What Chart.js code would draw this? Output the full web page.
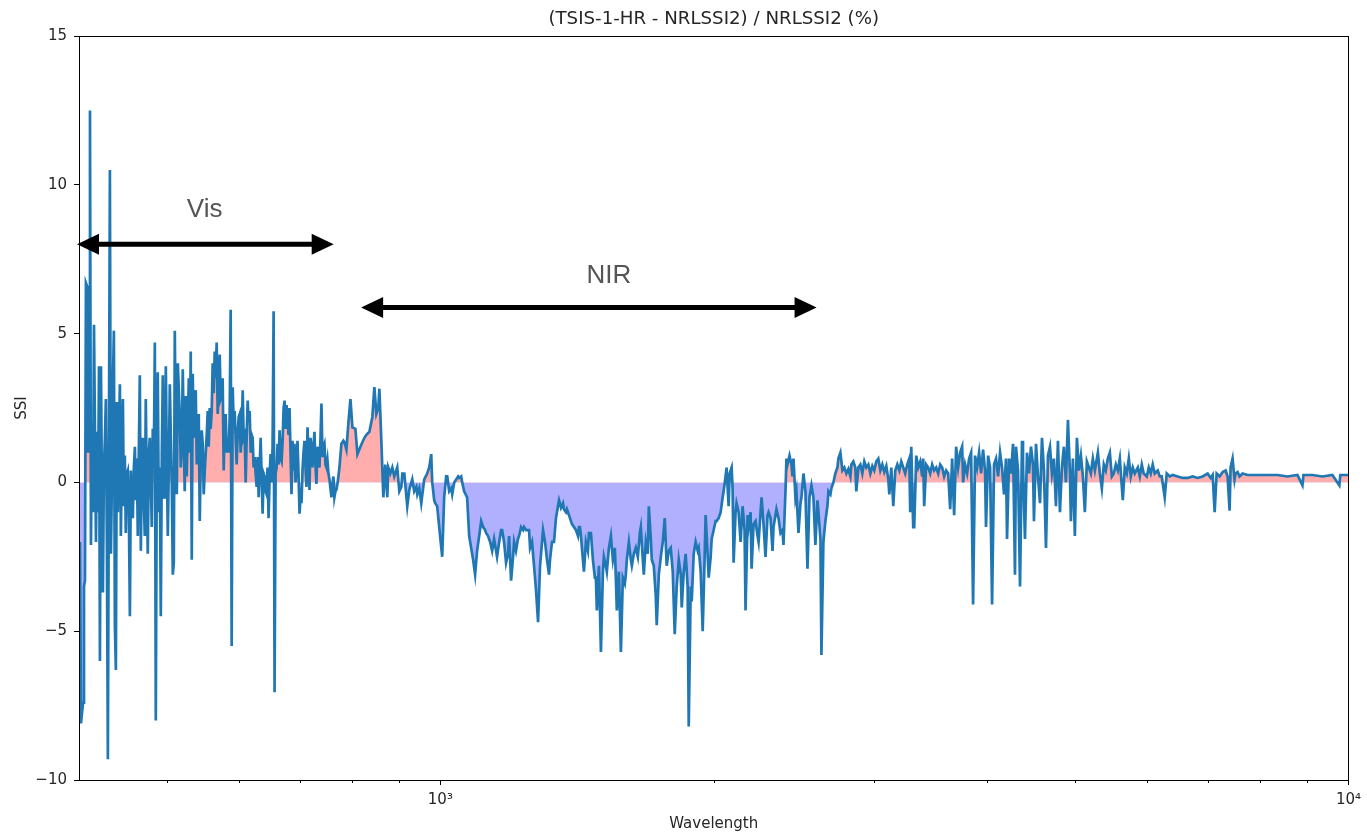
<!DOCTYPE html>
<html>
<head>
<meta charset="utf-8">
<title>(TSIS-1-HR - NRLSSI2) / NRLSSI2 (%)</title>
<script src="https://cdn.jsdelivr.net/npm/chart.js@4.4.1/dist/chart.umd.min.js"></script>
<style>
  html, body { margin: 0; padding: 0; background: #fff; }
  #wrap { width: 1367px; height: 835px; }
</style>
</head>
<body>
<div id="wrap"><canvas id="ssi-chart" width="1367" height="835"></canvas></div>
<script>
// Wavelength of each sample (nm)
const wavelength = [
    401.0, 402.0, 404.1, 405.1, 406.1, 407.1, 408.2, 409.2, 410.3, 411.3,
    412.3, 413.4, 414.4, 415.5, 416.5, 417.6, 418.6, 419.7, 420.8, 421.8,
    422.9, 424.0, 425.0, 426.1, 427.2, 428.2, 429.3, 430.4, 431.5, 432.6,
    433.7, 434.8, 435.9, 437.0, 438.1, 439.2, 440.3, 441.4, 442.6, 443.7,
    444.8, 446.0, 447.1, 448.2, 449.3, 450.4, 451.6, 452.7, 453.9, 455.1,
    456.2, 457.4, 458.5, 459.7, 460.9, 462.0, 463.2, 464.3, 465.5, 466.7,
    467.9, 469.1, 470.2, 471.4, 472.6, 473.8, 475.0, 476.2, 477.5, 478.7,
    479.9, 481.1, 482.3, 483.5, 484.8, 486.0, 487.2, 488.4, 489.7, 491.0,
    492.2, 493.5, 494.7, 496.0, 497.2, 498.5, 499.7, 501.0, 502.3, 503.6,
    504.9, 506.1, 507.4, 508.7, 510.0, 511.3, 512.6, 513.9, 516.5, 517.8,
    519.1, 520.4, 521.7, 523.0, 524.3, 525.7, 527.0, 528.4, 529.7, 531.0,
    532.4, 533.7, 535.1, 536.4, 537.8, 539.2, 540.5, 541.9, 543.3, 544.7,
    546.0, 547.4, 548.8, 550.2, 551.6, 553.0, 554.4, 555.8, 557.2, 558.6,
    560.0, 561.4, 562.9, 564.3, 565.7, 567.1, 568.6, 570.0, 571.5, 572.9,
    574.4, 575.8, 577.3, 578.7, 580.2, 581.7, 583.1, 584.6, 586.1, 587.6,
    589.1, 590.6, 592.1, 593.6, 595.1, 596.6, 598.1, 599.7, 601.2, 602.7,
    604.2, 605.8, 607.3, 608.8, 610.4, 611.9, 613.5, 615.0, 616.6, 618.2,
    619.7, 621.3, 622.8, 624.4, 626.0, 627.6, 629.2, 630.8, 632.4, 634.0,
    635.6, 637.2, 638.8, 640.4, 642.0, 643.6, 645.2, 646.9, 648.6, 650.2,
    651.9, 653.5, 655.2, 656.8, 658.5, 660.2, 661.8, 663.5, 665.2, 666.9,
    668.6, 670.3, 672.0, 673.6, 675.3, 677.0, 678.7, 680.5, 682.2, 683.9,
    685.6, 687.4, 689.1, 690.8, 692.6, 694.3, 696.1, 697.9, 699.7, 701.5,
    703.2, 705.0, 706.8, 708.6, 710.4, 712.2, 714.0, 715.8, 717.6, 719.4,
    721.2, 723.1, 724.9, 726.7, 728.5, 730.4, 732.2, 734.1, 736.0, 737.9,
    739.7, 741.6, 743.4, 745.3, 747.2, 749.1, 751.0, 752.9, 754.9, 756.8,
    758.7, 760.6, 762.5, 764.4, 766.4, 768.3, 770.3, 772.2, 774.2, 778.1,
    782.1, 784.1, 788.0, 792.0, 796.1, 800.1, 806.2, 810.3, 816.5, 820.6,
    824.8, 828.9, 835.3, 841.6, 845.9, 850.1, 854.4, 856.7, 861.0, 865.4,
    869.7, 874.1, 876.3, 880.8, 885.3, 889.7, 894.2, 896.4, 901.2, 905.8,
    908.1, 912.6, 919.5, 924.2, 931.2, 935.9, 940.9, 943.2, 947.9, 952.7,
    959.9, 967.1, 972.2, 977.1, 979.6, 984.5, 987.0, 992.0, 997.1, 1004.7,
    1009.7, 1014.8, 1017.6, 1022.7, 1027.9, 1030.5, 1035.7, 1040.9, 1046.1, 1048.9,
    1054.2, 1056.9, 1062.2, 1070.2, 1075.8, 1081.2, 1086.7, 1092.1, 1097.6, 1103.4,
    1109.0, 1114.6, 1120.2, 1123.0, 1128.6, 1134.6, 1140.3, 1146.0, 1151.7, 1154.6,
    1160.7, 1166.6, 1169.5, 1175.4, 1181.3, 1187.2, 1190.4, 1196.4, 1202.4, 1205.4,
    1211.4, 1217.4, 1220.9, 1227.1, 1233.3, 1236.4, 1242.6, 1245.7, 1252.2, 1255.4,
    1261.7, 1268.1, 1274.4, 1281.1, 1287.6, 1294.1, 1297.3, 1304.0, 1310.6, 1317.2,
    1320.5, 1327.2, 1333.9, 1340.6, 1347.4, 1351.0, 1357.8, 1364.7, 1368.1, 1375.0,
    1378.4, 1385.6, 1392.6, 1396.1, 1403.2, 1410.2, 1417.6, 1421.1, 1424.7, 1428.3,
    1435.5, 1439.1, 1446.3, 1453.8, 1457.5, 1464.9, 1472.3, 1479.6, 1483.4, 1487.1,
    1494.9, 1502.5, 1510.1, 1513.8, 1521.4, 1525.2, 1533.2, 1541.0, 1548.7, 1556.5,
    1560.4, 1564.3, 1572.5, 1580.5, 1588.4, 1596.4, 1600.4, 1604.4, 1612.8, 1621.0,
    1625.0, 1633.2, 1641.4, 1649.9, 1658.3, 1662.5, 1670.9, 1675.1, 1683.5, 1692.0,
    1696.5, 1705.1, 1709.4, 1718.0, 1726.6, 1730.9, 1740.0, 1748.8, 1757.6, 1766.4,
    1775.2, 1784.6, 1793.6, 1802.7, 1811.7, 1820.7, 1830.3, 1839.6, 1844.2, 1853.5,
    1862.7, 1872.0, 1877.2, 1886.7, 1891.4, 1900.9, 1910.4, 1920.4, 1925.3, 1935.0,
    1944.8, 1954.5, 1959.4, 1969.1, 1974.6, 1984.6, 1989.6, 1999.6, 2009.6, 2014.6,
    2025.2, 2035.4, 2045.7, 2050.8, 2061.0, 2066.2, 2077.1, 2082.4, 2092.9, 2098.1,
    2103.4, 2113.9, 2119.2, 2130.3, 2141.1, 2151.9, 2162.7, 2168.1, 2179.5, 2184.9,
    2196.0, 2201.5, 2212.6, 2223.7, 2235.2, 2240.9, 2252.2, 2257.9, 2269.2, 2280.6,
    2292.5, 2298.3, 2309.9, 2321.6, 2327.4, 2339.0, 2344.8, 2357.2, 2369.1, 2381.0,
    2387.0, 2399.0, 2405.0, 2411.0, 2423.7, 2435.9, 2442.0, 2448.2, 2460.4, 2466.5,
    2479.6, 2492.2, 2498.4, 2511.0, 2523.6, 2536.8, 2549.5, 2562.4, 2575.3, 2588.2,
    2601.7, 2608.3, 2621.5, 2628.1, 2641.3, 2654.5, 2668.3, 2675.1, 2688.6, 2695.4,
    2709.0, 2722.5, 2736.8, 2743.7, 2757.6, 2771.5, 2785.4, 2799.7, 2814.0, 2828.3,
    2835.4, 2849.7, 2864.0, 2871.1, 2886.1, 2900.7, 2915.3, 2930.0, 2945.0, 2960.1,
    2975.1, 2990.1, 3005.0, 3020.0, 3036.0, 3051.4, 3066.8, 3082.2, 3098.0, 3113.8,
    3121.7, 3137.5, 3153.3, 3169.2, 3185.5, 3201.7, 3217.8, 3234.0, 3250.2, 3267.1,
    3283.7, 3292.0, 3300.3, 3316.9, 3325.2, 3342.3, 3359.3, 3376.3, 3393.3, 3401.8,
    3410.3, 3427.7, 3445.4, 3462.8, 3480.2, 3497.7, 3515.5, 3533.7, 3551.6, 3569.5,
    3587.3, 3605.7, 3624.3, 3642.7, 3661.0, 3679.4, 3698.2, 3717.2, 3736.0, 3754.9,
    3764.3, 3783.1, 3802.7, 3821.9, 3841.2, 3860.5, 3879.8, 3900.0, 3919.9, 3939.7,
    3959.5, 3979.3, 3989.2, 4010.3, 4030.6, 4050.9, 4071.2, 4092.0, 4113.1, 4133.9,
    4154.7, 4175.5, 4196.6, 4207.5, 4229.2, 4250.5, 4271.9, 4293.2, 4304.0, 4326.6,
    4348.5, 4370.4, 4381.3, 4403.2, 4425.9, 4448.7, 4471.2, 4493.6, 4504.9, 4528.2,
    4551.2, 4574.2, 4597.3, 4620.3, 4644.2, 4667.8, 4691.4, 4715.1, 4738.7, 4763.0,
    4787.4, 4811.6, 4835.8, 4860.0, 4885.0, 4910.1, 4935.0, 4947.4, 4972.2, 4997.2,
    5023.0, 5048.6, 5074.1, 5099.6, 5125.4, 5151.9, 5178.1, 5204.2, 5230.4, 5257.2,
    5297.4, 5324.2, 5351.0, 5377.8, 5405.2, 5433.2, 5460.7, 5488.2, 5515.7, 5544.2,
    5572.4, 5600.6, 5642.9, 5671.4, 5700.6, 5729.7, 5758.6, 5787.5, 5817.1, 5861.7,
    5891.4, 5921.1, 5950.7, 5996.7, 6027.1, 6057.5, 6087.9, 6119.0, 6166.0, 6197.2,
    6228.4, 6275.8, 6308.0, 6356.0, 6404.4, 6486.1, 6568.6, 6652.3, 6737.0, 6822.8,
    6909.6, 6997.6, 7051.4, 7087.2, 7123.0, 7159.0, 7213.7, 7268.8, 7324.0, 7360.8,
    7398.0, 7416.6, 7453.9, 7491.3, 7510.0, 7549.4, 7588.0, 7646.0, 7742.9, 7941.3,
    8144.8, 8353.5, 8567.6, 8787.1, 8899.0, 8921.5, 9127.0, 9361.0, 9601.0, 9772.0,
    9796.6, 10000.0
];

// (TSIS-1-HR - NRLSSI2) / NRLSSI2 in percent, same order as wavelength
const ssiDiff = [
    -2.0, -8.1, -7.4, -3.5, -3.3, 6.7, 6.6, 1.0, 5.0, 12.5,
    -2.1, 2.0, -1.0, 5.3, 1.8, -2.0, 1.7, -1.0, 3.9, -6.0,
    3.9, -0.5, -3.7, 0.5, 1.5, 2.8, -2.0, -9.3, 1.0, 10.5,
    -2.4, 0.0, 3.3, 5.1, -4.8, -6.3, 2.7, -1.0, 1.5, 3.3,
    -1.8, 1.0, 2.8, -0.8, 0.9, -1.7, 0.3, 0.4, -1.0, -4.5,
    0.4, -0.8, -1.2, 0.5, 1.2, -0.6, 0.8, -1.8, 1.0, 3.6,
    -2.3, 0.5, 1.5, -0.5, -1.8, 2.8, 0.0, -2.4, 1.0, 1.5,
    0.0, -1.5, 1.8, 0.5, 4.7, -8.0, 0.5, 3.7, -1.0, 0.5,
    -4.5, 1.0, 3.6, -0.5, -0.5, 3.9, 1.0, -1.8, 0.5, 3.3,
    1.5, 0.0, -3.1, -2.7, 5.1, 1.0, -0.4, 4.0, 2.2, 0.5,
    1.2, 3.8, 1.5, -0.3, 2.9, 0.2, 1.8, 3.5, 1.0, 4.4,
    -2.6, 3.65, 1.5, 2.0, 3.1, 0.6, 1.8, 2.3, -1.3, 1.0,
    1.75, 1.3, -0.4, 0.4, 1.0, 1.6, 2.4, 1.2, 2.5, 1.8,
    2.4, 4.0, 3.0, 4.4, 3.5, 4.7, 2.3, 3.0, 4.3, 2.8,
    2.9, 3.5, 0.4, 2.0, 2.3, 1.0, 1.4, 1.0, 2.2, 5.8,
    -5.5, 3.2, 2.0, 2.4, 1.5, 0.6, 1.6, 2.2, 2.3, 1.0,
    1.6, 3.1, 1.5, 1.6, 0.0, 1.5, 2.75, 2.0, 2.4, 1.0,
    1.6, 1.5, 0.5, 0.85, 0.3, -0.15, 0.85, -0.5, 0.5, 1.5,
    0.2, -1.05, 0.3, 0.2, -0.3, -0.4, 0.5, -1.2, 0.2, 0.95,
    0.0, 1.2, 5.75, -7.05, 0.3, 0.5, 1.3, 0.6, 1.75, 0.8,
    0.7, 1.4, 2.5, 2.75, 1.8, 2.6, 2.2, 1.6, 2.5, 1.0,
    -0.4, 1.4, 0.4, 1.3, 0.0, 0.4, 1.4, 0.3, -1.05, -0.5,
    -0.7, 0.4, 1.0, 1.4, 0.5, -0.15, 1.85, 1.0, -0.25, 1.5,
    1.2, 0.5, 1.2, 1.7, 0.6, -0.05, 1.2, 0.8, 0.5, 1.5,
    2.65, 0.85, 1.2, 1.3, 0.6, 0.5, 0.75, 0.3, 0.1, -0.2,
    -0.5, -0.05, 0.2, -0.5, -0.3, -0.25, -0.05, 0.2, 0.5, 1.3,
    1.4, 1.35, 1.1, 2.0, 2.8, 1.85, 1.8, 0.95, 1.2, 1.35,
    1.5, 1.6, 1.7, 2.2, 3.2, 2.3, 2.5, 3.15, 1.4, -0.5,
    0.6, -0.5, 0.5, 0.3, 0.5, 0.2, 0.4, 0.5, -0.3, -0.15,
    0.3, 0.3, -0.8, -0.25, 0.1, -0.3, -0.15, -0.4, -0.2, -0.7,
    0.1, 0.3, 0.5, 0.95, 0.0, -0.6, -0.7, -0.8, -1.5, -2.5,
    -0.5, 0.2, 0.2, -0.3, -0.2, -0.4, 0.0, 0.1, 0.2, 0.15,
    0.2, 0.0, -0.3, -0.5, -1.8, -2.2, -2.6, -3.1, -2.3, -1.8,
    -1.3, -1.5, -1.6, -1.7, -1.8, -2.0, -2.3, -1.9, -2.3, -2.5,
    -2.0, -1.6, -1.6, -2.0, -2.7, -2.4, -1.8, -3.3, -2.5, -2.0,
    -2.3, -1.9, -1.8, -1.5, -1.6, -1.5, -1.6, -1.6, -1.6, -2.2,
    -2.0, -2.8, -3.6, -4.7, -2.8, -2.0, -1.6, -2.0, -2.6, -3.1,
    -2.6, -2.0, -2.0, -1.2, -0.8, -0.6, -0.85, -0.7, -0.9, -1.0,
    -0.9, -1.1, -1.3, -1.4, -1.5, -1.6, -1.8, -1.5, -1.5, -1.8,
    -2.6, -3.0, -2.0, -2.3, -1.7, -1.7, -2.6, -3.2, -3.2, -4.3,
    -2.8, -5.7, -3.0, -2.5, -2.8, -3.0, -2.2, -1.8, -2.6, -2.2,
    -3.2, -4.3, -3.0, -5.7, -3.2, -3.4, -3.1, -2.6, -2.0, -2.6,
    -2.8, -2.4, -2.2, -2.5, -1.7, -1.5, -2.6, -3.1, -2.0, -2.4,
    -0.8, -1.9, -2.6, -2.8, -3.8, -4.8, -3.1, -2.5, -2.0, -1.2,
    -2.8, -2.3, -2.2, -3.0, -5.1, -3.5, -2.6, -3.1, -4.2, -3.0,
    -2.4, -3.5, -8.2, -3.5, -4.0, -2.4, -2.0, -2.3, -2.2, -3.0,
    -5.0, -2.5, -1.1, -2.4, -3.2, -2.5, -1.9, -1.6, -1.3, -1.3,
    -1.2, -1.0, -0.5, -0.3, 0.2, 0.5, -0.8, 0.3, 0.5, -0.2,
    -2.7, -1.0, -0.7, -1.0, -2.0, -0.8, -1.6, -4.3, -1.1, -1.5,
    -1.0, -2.9, -1.4, -1.3, -1.8, -2.0, -1.0, -0.5, -1.4, -2.5,
    -1.1, -1.0, -1.2, -2.3, -1.5, -1.1, -0.9, -1.2, -1.7, -1.6,
    -2.1, -0.3, 0.8, 0.6, 0.9, 0.6, 0.2, 0.8, -0.5, -0.3,
    -1.7, -0.7, -0.5, 0.3, -0.3, -2.9, -0.5, -0.1, -0.5, -2.1,
    -0.6, -1.0, -1.9, -5.8, -2.0, -1.3, -0.8, -0.3, -0.4, -0.2,
    0.0, 0.3, 0.5, 0.8, 1.0, 0.4, 0.5, 0.3, 0.45, 0.2,
    0.6, 0.7, 0.5, -0.3, 0.5, 0.6, 0.3, 0.7, 0.5, 0.6,
    0.3, 0.55, 0.4, 0.7, 0.8, 0.4, 0.6, 0.35, 0.55, 0.1,
    -0.4, 0.5, -0.8, 0.4, 0.6, 0.4, 0.7, 0.5, 0.3, 0.6,
    0.8, -1.0, 1.2, -1.5, -1.5, 0.9, 0.5, 0.7, 0.2, 0.8,
    -0.8, 0.6, 0.5, 0.3, 0.6, 0.4, 0.5, 0.3, 0.6, 0.5,
    0.2, 0.4, 0.3, -0.9, 0.8, -1.1, 1.2, 0.5, 1.0, 1.2,
    0.0, 0.6, 0.3, 0.8, 1.0, -4.1, 0.9, 0.5, 1.0, 0.3,
    1.1, 0.4, -1.5, 0.9, 0.5, -4.1, 0.6, 0.8, 0.2, 1.0,
    0.5, -0.4, 0.8, -1.9, 0.8, 0.3, 1.3, -3.1, 1.2, 0.4,
    -3.5, 1.4, 0.6, -1.9, 1.0, 0.3, 1.2, 0.6, -1.3, 1.3,
    0.2, -0.7, 1.5, 0.4, -2.2, 0.9, 1.2, 0.3, 0.8, -0.8,
    1.4, -1.0, 0.5, 1.2, 0.0, 2.1, 0.3, -1.3, 0.8, -1.8,
    1.5, 0.4, 0.9, 0.2, -1.0, 0.7, 0.5, 0.3, 0.8, 0.4,
    1.0, 0.3, -0.2, 0.6, 0.4, 0.8, 1.0, 0.2, 0.3, 0.6,
    0.4, 0.8, -0.6, 0.5, 0.3, 0.8, 0.2, 0.5, 0.3, 0.5,
    0.2, 0.6, 0.3, 0.2, 0.5, 0.3, 0.6, 0.3, 0.4, 0.2,
    0.2, -0.5, 0.3, 0.2, 0.25, 0.2, 0.15, 0.15, 0.2, 0.15,
    0.2, 0.3, 0.15, 0.25, -1.0, 0.3, 0.2, 0.35, 0.4, 0.2,
    -0.95, 0.5, 0.8, 0.1, 0.3, 0.35, 0.2, 0.3, 0.25, 0.25,
    0.25, 0.25, 0.2, 0.25, -0.1, 0.25, 0.25, 0.2, 0.25, -0.1,
    0.25, 0.25
];

const xMajorTicks = [1000, 10000];
const xMinorTicks = [500, 600, 700, 800, 900, 2000, 3000, 4000, 5000, 6000, 7000, 8000, 9000];

// Spectral bands marked with a double arrow and a label
const bandNames = ['Vis', 'NIR'];
const bandStart = [398, 818];
const bandEnd = [763, 2596];
const bandArrowLevel = [8.0, 5.88];
const bandLabelAt = [550, 1533];
const bandLabelLevel = [9.15, 6.95];

const textColor = '#262626';
Chart.defaults.font.family = '"DejaVu Sans", sans-serif';
Chart.defaults.font.size = 15;
Chart.defaults.color = textColor;

// Double headed arrow between two pixel positions
function drawDoubleArrow(ctx, x0, x1, y) {
    const head = 22, half = 10.5;
    ctx.strokeStyle = '#000';
    ctx.fillStyle = '#000';
    ctx.lineWidth = 5;
    ctx.beginPath();
    ctx.moveTo(x0 + head - 2, y);
    ctx.lineTo(x1 - head + 2, y);
    ctx.stroke();
    ctx.beginPath();
    ctx.moveTo(x0, y);
    ctx.lineTo(x0 + head, y - half);
    ctx.lineTo(x0 + head, y + half);
    ctx.closePath();
    ctx.fill();
    ctx.beginPath();
    ctx.moveTo(x1, y);
    ctx.lineTo(x1 - head, y - half);
    ctx.lineTo(x1 - head, y + half);
    ctx.closePath();
    ctx.fill();
}

// Bands, axes frame and minor ticks
const decorations = {
    id: 'decorations',
    afterDatasetsDraw(chart) {
        const {ctx, scales: {x, y}} = chart;
        ctx.save();
        for (let i = 0; i < bandNames.length; i++) {
            const yy = y.getPixelForValue(bandArrowLevel[i]);
            drawDoubleArrow(ctx, x.getPixelForValue(bandStart[i]), x.getPixelForValue(bandEnd[i]), yy);
            ctx.fillStyle = '#555';
            ctx.font = '26px "Liberation Sans", Arial, sans-serif';
            ctx.textAlign = 'center';
            ctx.textBaseline = 'middle';
            ctx.fillText(bandNames[i], x.getPixelForValue(bandLabelAt[i]), y.getPixelForValue(bandLabelLevel[i]));
        }
        ctx.restore();
    },
    afterDraw(chart) {
        const {ctx, chartArea: area, scales: {x}} = chart;
        ctx.save();
        ctx.strokeStyle = '#000';
        ctx.lineWidth = 1;
        ctx.strokeRect(Math.round(area.left) + 0.5, Math.round(area.top) + 0.5,
            Math.round(area.right - area.left), Math.round(area.bottom - area.top));
        ctx.beginPath();
        for (const v of xMinorTicks) {
            const px = Math.round(x.getPixelForValue(v)) + 0.5;
            ctx.moveTo(px, area.bottom);
            ctx.lineTo(px, area.bottom + 3);
        }
        ctx.stroke();
        ctx.restore();
    }
};

const points = wavelength.map((w, i) => ({x: w, y: ssiDiff[i]}));

new Chart(document.getElementById('ssi-chart'), {
    type: 'line',
    data: {
        datasets: [{
            data: points,
            borderColor: '#1f77b4',
            borderWidth: 2.7,
            pointRadius: 0,
            tension: 0,
            fill: {
                target: 'origin',
                above: 'rgba(255, 0, 0, 0.32)',
                below: 'rgba(0, 0, 255, 0.31)'
            }
        }]
    },
    options: {
        responsive: false,
        animation: false,
        layout: {
            padding: {left: 0, right: 16, top: 0, bottom: 0}
        },
        plugins: {
            legend: {display: false},
            tooltip: {enabled: false},
            title: {
                display: true,
                fullSize: false,
                text: '(TSIS-1-HR - NRLSSI2) / NRLSSI2 (%)',
                color: textColor,
                font: {size: 18.2, weight: 'normal'},
                padding: {top: 8, bottom: 6.2}
            }
        },
        scales: {
            x: {
                type: 'logarithmic',
                min: 400,
                max: 10000,
                afterBuildTicks: (scale) => {
                    scale.ticks = xMajorTicks.concat(xMinorTicks).sort((a, b) => a - b).map(v => ({value: v}));
                },
                afterFit: (scale) => { scale.height = 55; },
                ticks: {
                    autoSkip: false,
                    maxRotation: 0,
                    minRotation: 0,
                    padding: 6,
                    callback: (v) => v === 1000 ? '10³' : (v === 10000 ? '10⁴' : '')
                },
                grid: {
                    drawOnChartArea: false,
                    tickLength: 5,
                    tickColor: (c) => (c.tick && xMajorTicks.includes(c.tick.value)) ? '#000' : 'rgba(0,0,0,0)'
                },
                border: {display: false},
                title: {
                    display: true,
                    text: 'Wavelength',
                    padding: {top: 0, bottom: 2}
                }
            },
            y: {
                min: -10,
                max: 15,
                afterFit: (scale) => { scale.width = 79; },
                ticks: {
                    stepSize: 5,
                    padding: 7,
                    callback: (v) => v < 0 ? '\u2212' + Math.abs(v) : String(v)
                },
                grid: {
                    drawOnChartArea: false,
                    tickLength: 5,
                    tickColor: '#000'
                },
                border: {display: false},
                title: {
                    display: true,
                    text: 'SSI',
                    padding: {top: 13, bottom: 0}
                }
            }
        }
    },
    plugins: [decorations]
});
</script>
</body>
</html>
